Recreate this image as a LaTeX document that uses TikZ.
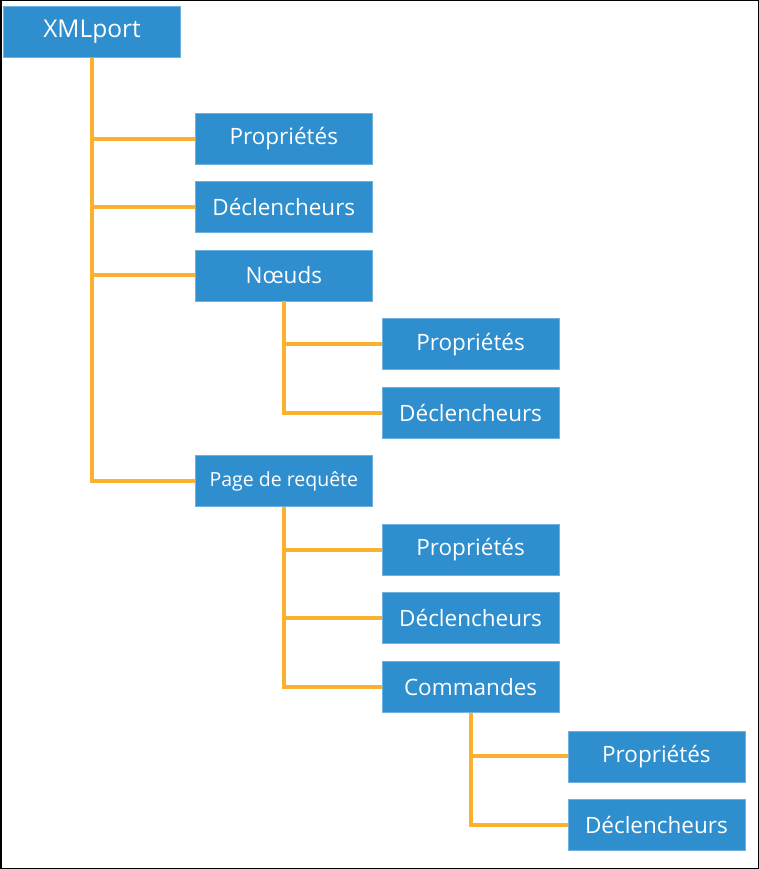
\documentclass[tikz,border=0pt]{standalone}
\usepackage{fontspec}
\setmainfont{Open Sans}
\usetikzlibrary{positioning}
\definecolor{boxblue}{HTML}{2E8ECE}
\definecolor{boxedge}{HTML}{6FB2E2}
\definecolor{treeorange}{HTML}{FBB02E}
\tikzset{
  treenode/.style={
    rectangle, draw=boxedge, line width=0.8pt, fill=boxblue,
    minimum width=177pt, minimum height=51pt, inner sep=0pt,
    text=white, font=\fontsize{22.5}{26}\selectfont
  },
  rootnode/.style={treenode, font=\fontsize{24.5}{28}\selectfont},
  smallnode/.style={treenode, font=\fontsize{19.5}{23}\selectfont},
  branch/.style={treeorange, line width=4pt}
}

\begin{document}
\begin{tikzpicture}[x=1pt, y=-1pt, node distance=16.5pt]
    % frame
    \draw[black, line width=1.5pt, fill=white] (0.75,0.75) rectangle (758.25,868.25);
    \useasboundingbox (0,0) rectangle (759,869);
    % nodes
    \node[rootnode] (xml) at (92,32) {XMLport};
    \node[treenode, below right=55pt and 14pt of xml.south east] (prop1) {Propriétés};
    \node[treenode, below=of prop1] (decl1) {Déclencheurs};
    \node[treenode, below=of decl1] (noeuds) {Nœuds};
    \node[treenode, below right=17pt and 9pt of noeuds.south east] (prop2) {Propriétés};
    \node[treenode, below=of prop2] (decl2) {Déclencheurs};
    \node[smallnode, below=154pt of noeuds] (page) {Page de requête};
    \node[treenode, below right=17pt and 9pt of page.south east] (prop3) {Propriétés};
    \node[treenode, below=of prop3] (decl3) {Déclencheurs};
    \node[treenode, below=of decl3] (cmd) {Commandes};
    \node[treenode, below right=18pt and 8pt of cmd.south east] (prop4) {Propriétés};
    \node[treenode, below=of prop4] (decl4) {Déclencheurs};
    % connectors
    \draw[branch] (xml.south) |- (page.west);
    \draw[branch] (xml.south |- prop1.west) -- (prop1.west);
    \draw[branch] (xml.south |- decl1.west) -- (decl1.west);
    \draw[branch] (xml.south |- noeuds.west) -- (noeuds.west);
    \draw[branch] (noeuds.south) |- (decl2.west);
    \draw[branch] (noeuds.south |- prop2.west) -- (prop2.west);
    \draw[branch] (page.south) |- (cmd.west);
    \draw[branch] (page.south |- prop3.west) -- (prop3.west);
    \draw[branch] (page.south |- decl3.west) -- (decl3.west);
    \draw[branch] (cmd.south) |- (decl4.west);
    \draw[branch] (cmd.south |- prop4.west) -- (prop4.west);
\end{tikzpicture}
\end{document}
